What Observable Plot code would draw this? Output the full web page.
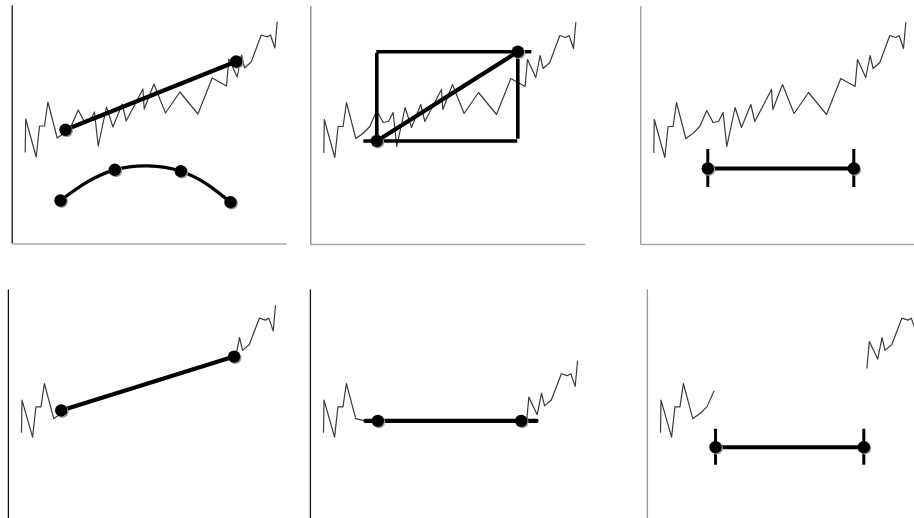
<!DOCTYPE html>
<html>
<head>
<meta charset="utf-8">
<script src="https://cdn.jsdelivr.net/npm/d3@7"></script>
<script src="https://cdn.jsdelivr.net/npm/@observablehq/plot@0.6"></script>
<style>
  html, body { margin: 0; padding: 0; background: #fff; overflow: hidden; }
  #chart { position: relative; width: 914px; height: 518px; overflow: hidden; }
  #chart svg { position: absolute; background: transparent; }
</style>
</head>
<body>
<div id="chart"></div>
<script>
// ---- underlying time series (time index, value) ----
const seriesT = [0, 0.5, 11, 14.3, 19.3, 22.7, 32, 39, 46, 53, 59.3, 64.7, 69.3, 73, 81.3, 87.7, 97, 101, 117.7, 119,
                 128.7, 140.3, 154.7, 172.7, 187, 201.3, 203.7, 212, 216.3, 219.3, 226, 236, 242, 245.3, 249.7, 252];
const seriesV = [92, 125, 87, 118, 118, 142, 106, 111, 118, 134, 122, 123, 132, 98, 137, 117, 140, 123, 155, 135,
                 160, 131, 152, 130, 166, 158, 185, 167, 189, 176, 182, 209, 207, 209, 196, 222];

// shared scale domains
const xDomain = [-13, 262];
const yDomain = [0, 238];

// panel 1: straight trend between two points, and an arc through four points
const trendT = [40.3, 211];
const trendV = [114.2, 182.5];
const arcT = [35.3, 89.6, 155.6, 205.3];
const arcV = [43.5, 74.2, 72.8, 41.8];

// panel 2: box spanned by two points with extended edges
const boxT = [53, 194];
const boxV = [103.5, 192.8];
const boxExtT = [40, 208];

// panel 3: interval
const spanT = [54, 200];
const spanV = 76;

// panel 4: linear bridge replacing the middle
const bridgeT = [39.4, 210.9];
const bridgeV = [114.3, 169.6];
const cut4 = [39, 212];

// panel 5: flat segment and shifted later part
const flatT = [41.7, 211.3];
const flatV = 103.6;
const flatDotT = [53.9, 196.1];
const cut5 = [32, 201.3];
const levelShift = 57;

// panel 6: gap interval
const gapT = [54.6, 201.7];
const gapV = 76.6;
const cut6 = [53, 201.3];

const series = seriesT.map((t, i) => ({t, v: seriesV[i]}));
const pts = (T, V) => T.map((t, i) => ({t, v: Array.isArray(V) ? V[i] : V}));

const LINE = "#3a3a3a";
const dots = (data) => [
  Plot.dot(data, {x: "t", y: "v", r: 6.2, fill: "#999", dx: 1.2, dy: 1.2}),
  Plot.dot(data, {x: "t", y: "v", r: 6.2, fill: "#000"})
];
const seriesLine = (data, opts = {}) => Plot.line(data, {x: "t", y: "v", stroke: LINE, strokeWidth: 1.2, ...opts});
const leftAxis = (color, width = 1.3) => Plot.ruleX([xDomain[0]], {y1: yDomain[0], y2: yDomain[1], stroke: color, strokeWidth: width});
const bottomAxis = () => Plot.ruleY([0], {x1: xDomain[0], x2: xDomain[1], stroke: "#aaa", strokeWidth: 1.6});

function panel(left, top, width, height, xr, yr, marks) {
  const svg = Plot.plot({
    width, height,
    marginTop: 0, marginRight: 0, marginBottom: 0, marginLeft: 0,
    style: {background: "transparent", overflow: "visible"},
    x: {domain: xDomain, range: xr, axis: null},
    y: {domain: yDomain, range: yr, axis: null},
    marks
  });
  svg.style.left = left + "px";
  svg.style.top = top + "px";
  document.getElementById("chart").appendChild(svg);
}

// ---- top row ----
panel(0, 0, 300, 250, [11.7, 286.7], [243.5, 5.5], [
  leftAxis("#111"), bottomAxis(),
  seriesLine(series),
  Plot.line(pts(trendT, trendV), {x: "t", y: "v", stroke: "#000", strokeWidth: 4.2}),
  Plot.line(pts(arcT, arcV), {x: "t", y: "v", stroke: "#000", strokeWidth: 3.3, curve: "natural"}),
  ...dots(pts(trendT, trendV)),
  ...dots(pts(arcT, arcV))
]);

panel(300, 0, 320, 250, [10.3, 285.3], [244, 6], [
  leftAxis("#888"), bottomAxis(),
  seriesLine(series),
  Plot.ruleY([boxV[0]], {x1: boxExtT[0], x2: boxT[1], stroke: "#000", strokeWidth: 3.6}),
  Plot.ruleY([boxV[1]], {x1: boxT[0], x2: boxExtT[1], stroke: "#000", strokeWidth: 3.6}),
  Plot.ruleX([boxT[0]], {y1: boxV[0], y2: boxV[1], stroke: "#000", strokeWidth: 3.6, insetTop: -1.8, insetBottom: -1.8}),
  Plot.ruleX([boxT[1]], {y1: boxV[0], y2: boxV[1], stroke: "#000", strokeWidth: 3.6, insetTop: -1.8, insetBottom: -1.8}),
  Plot.line(pts(boxT, boxV), {x: "t", y: "v", stroke: "#000", strokeWidth: 4.2}),
  ...dots(pts(boxT, boxV))
]);

panel(620, 0, 294, 250, [20.3, 295.3], [244, 6], [
  leftAxis("#999"), bottomAxis(),
  seriesLine(series),
  Plot.line(pts(spanT, spanV), {x: "t", y: "v", stroke: "#000", strokeWidth: 4}),
  Plot.ruleX(spanT, {x: d => d, y1: spanV, y2: spanV, insetTop: -19, insetBottom: -19, stroke: "#000", strokeWidth: 3}),
  ...dots(pts(spanT, spanV))
]);

// ---- bottom row ----
panel(0, 270, 300, 248, [7.9, 285.1], [251.4, 19.4], [
  leftAxis("#111"),
  seriesLine(series.filter(d => d.t <= cut4[0])),
  seriesLine(series.filter(d => d.t >= cut4[1])),
  Plot.line(pts(bridgeT, bridgeV), {x: "t", y: "v", stroke: "#000", strokeWidth: 4.2}),
  ...dots(pts(bridgeT, bridgeV))
]);

panel(300, 270, 320, 248, [9.9, 287.1], [251.4, 19.4], [
  leftAxis("#111"),
  seriesLine([...series.filter(d => d.t <= cut5[0]), {t: flatT[0], v: flatV}]),
  seriesLine(series.filter(d => d.t >= cut5[1]).map(d => ({t: d.t, v: d.v - levelShift}))),
  Plot.line(pts(flatT, flatV), {x: "t", y: "v", stroke: "#000", strokeWidth: 4.2}),
  ...dots(pts(flatDotT, flatV))
]);

panel(620, 270, 294, 248, [26.9, 304.1], [251.4, 19.4], [
  leftAxis("#999"),
  seriesLine(series.filter(d => d.t <= cut6[0])),
  seriesLine(series.filter(d => d.t >= cut6[1]), {dx: 3.5}),
  Plot.line(pts(gapT, gapV), {x: "t", y: "v", stroke: "#000", strokeWidth: 4}),
  Plot.ruleX(gapT, {x: d => d, y1: gapV, y2: gapV, insetTop: -18, insetBottom: -18, stroke: "#000", strokeWidth: 3}),
  ...dots(pts(gapT, gapV))
]);
</script>
</body>
</html>
